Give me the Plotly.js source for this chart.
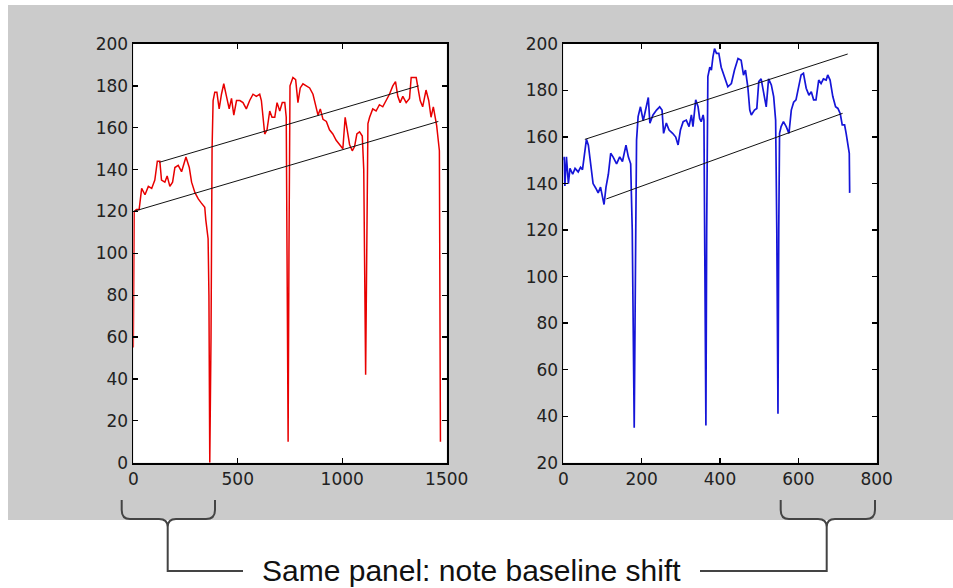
<!DOCTYPE html>
<html>
<head>
<meta charset="utf-8">
<script src="https://cdn.plot.ly/plotly-3.0.1.min.js"></script>
<style>html,body{margin:0;padding:0;background:#fff;}#chart{width:953px;height:588px;}</style>
</head>
<body>
<div id="chart"></div>
<script>
// ---- Data ----
const redX = [0,4,15,28,40,56,72,88,103,115,127,135,151,162,175,188,199,215,231,252,268,279,295,311,326,342,347,358,362,366,372,377,382,390,400,411,422,433,446,459,470,481,494,510,525,541,557,573,589,605,613,621,629,640,653,664,677,688,701,713,725,732,737,741,745,750,764,777,788,799,812,828,844,860,873,884,895,908,924,939,955,971,987,1003,1014,1024,1035,1048,1059,1070,1083,1096,1103,1112,1118,1123,1131,1146,1162,1178,1194,1210,1226,1242,1255,1266,1277,1290,1306,1322,1330,1354,1361,1373,1385,1401,1414,1425,1436,1446,1452,1465,1470];
const redY = [55,120,121,121,131,128,132,131,135,144,144,135,134,137,132,134,141,142,139,146,141,134,129,126,124,122,116,107,80,0,60,150,173,177,177,169,176,181,175,169,174,166,173,173,172,169,173,176,175,176,173,164,157,159,168,165,165,172,168,172,172,165,100,10,100,180,184,183,172,179,181,180,179,176,170,166,169,164,163,159,157,154,152,150,165,159,152,149,151,157,158,156,140,42,100,162,165,169,168,171,170,173,176,180,182,175,172,175,172,174,184,184,180,173,170,178,173,165,170,163,161,149,10];

const blueX = [0,2,4,8,13,17,24,30,38,44,49,55,59,64,70,76,83,89,95,100,104,109,115,121,127,136,144,151,160,166,172,176,181,185,187,191,197,204,211,217,221,229,238,246,252,256,263,270,279,287,293,299,306,314,321,327,331,338,344,348,352,357,359,361,364,366,369,374,378,382,386,391,397,403,412,420,429,437,446,454,460,465,471,476,480,488,494,499,505,511,518,524,531,537,542,545,548,550,552,556,562,569,576,582,588,594,601,607,613,620,627,633,639,645,652,658,664,671,675,681,688,695,701,707,712,718,722,726,730,731];
const blueY = [150,151.5,139,151.5,140,146.5,144,146.5,145,147,146,154.5,159,156.5,147,140,138,136,138.5,135,131,138.5,144,153,151.5,148.5,151.5,149.5,156.5,151.5,148.5,120,35,120,158.7,168.8,173,167,172,177,166,169.5,171.6,173,171.6,161.6,166,163,161.6,160,156.6,163,166.6,167.3,164.5,169.5,164.5,176,173,168,166.6,169.5,167.3,120,36,120,186,190,188.8,194.5,198,196,196,190,185,181.6,183,188.8,193.8,193,186.6,188.8,181.6,171.6,169.5,171.6,172.3,183.8,185,179.5,173,185,182.4,177.4,167.3,120,41,120,161.6,164.5,166.6,164.5,161.6,171.6,175,176,181.6,186.7,187.4,181,178,179.5,176,176,184.5,183,185,184.5,186.7,184.5,177.4,173,172.3,170,165.2,165.2,161.6,157.3,153,136];

// baseline trend lines (endpoints)
const redUpperX = [125, 1365], redUpperY = [143.5, 180];
const redLowerX = [0, 1460], redLowerY = [120, 163];
const blueUpperX = [55, 726], blueUpperY = [159, 195.7];
const blueLowerX = [110, 713], blueLowerY = [133.4, 170.2];

const leftXTicks = [0, 500, 1000, 1500];
const rightXTicks = [0, 200, 400, 600, 800];
const leftYTicks = [0,20,40,60,80,100,120,140,160,180,200];
const rightYTicks = [20,40,60,80,100,120,140,160,180,200];
const noteText = "Same panel: note baseline shift";

// ---- Layout helpers ----
const W = 953, H = 588;
const px = x => x / W;
const py = y => 1 - y / H;
const P = (x, y) => px(x) + ',' + py(y);

const lineColor = '#444';
const tickFont = {family: 'DejaVu Sans, Arial, sans-serif', size: 17, color: '#222'};

const leftDomX = [133.3/W, 446.7/W];
const rightDomX = [563.3/W, 876.7/W];
const domY = [py(462.7), py(44)];

function axisBase(extra) {
  return Object.assign({
    showgrid: false, zeroline: false, showline: true, mirror: 'ticks',
    linecolor: '#000', linewidth: 1.8, ticks: 'inside', ticklen: 5, tickwidth: 1.3,
    tickcolor: '#000', tickfont: tickFont, fixedrange: true
  }, extra);
}

const traces = [
  {x: redX, y: redY, xaxis: 'x', yaxis: 'y', type: 'scatter', mode: 'lines',
   line: {color: '#e80000', width: 1.5}},
  {x: redUpperX, y: redUpperY, xaxis: 'x', yaxis: 'y', type: 'scatter', mode: 'lines',
   line: {color: '#111', width: 1}},
  {x: redLowerX, y: redLowerY, xaxis: 'x', yaxis: 'y', type: 'scatter', mode: 'lines',
   line: {color: '#111', width: 1}},
  {x: blueX, y: blueY, xaxis: 'x2', yaxis: 'y2', type: 'scatter', mode: 'lines',
   line: {color: '#1515d8', width: 1.7}},
  {x: blueUpperX, y: blueUpperY, xaxis: 'x2', yaxis: 'y2', type: 'scatter', mode: 'lines',
   line: {color: '#111', width: 1}},
  {x: blueLowerX, y: blueLowerY, xaxis: 'x2', yaxis: 'y2', type: 'scatter', mode: 'lines',
   line: {color: '#111', width: 1}}
];

const leftBrace = 'M' + P(121.7,500) + ' L' + P(121.7,510) + ' Q' + P(121.7,519) + ' ' + P(130,519) +
  ' L' + P(159,519) + ' Q' + P(167.7,519) + ' ' + P(167.7,527) + ' Q' + P(167.7,519) + ' ' + P(176,519) +
  ' L' + P(206,519) + ' Q' + P(215,519) + ' ' + P(215,510) + ' L' + P(215,500);
const rightBrace = 'M' + P(780.7,500) + ' L' + P(780.7,510) + ' Q' + P(780.7,519) + ' ' + P(789,519) +
  ' L' + P(818,519) + ' Q' + P(826.7,519) + ' ' + P(826.7,527) + ' Q' + P(826.7,519) + ' ' + P(835,519) +
  ' L' + P(866,519) + ' Q' + P(875,519) + ' ' + P(875,510) + ' L' + P(875,500);
const leftConn = 'M' + P(167.7,527) + ' L' + P(167.7,571) + ' L' + P(243,571);
const rightConn = 'M' + P(700,571) + ' L' + P(826.7,571) + ' L' + P(826.7,527);

const layout = {
  width: W, height: H,
  margin: {l: 0, r: 0, t: 0, b: 0, pad: 0},
  paper_bgcolor: '#ffffff', plot_bgcolor: '#ffffff',
  showlegend: false,
  xaxis: axisBase({domain: leftDomX, range: [0, 1500], tickvals: leftXTicks, anchor: 'y'}),
  yaxis: axisBase({domain: domY, range: [0, 200], tickvals: leftYTicks, anchor: 'x'}),
  xaxis2: axisBase({domain: rightDomX, range: [0, 800], tickvals: rightXTicks, anchor: 'y2'}),
  yaxis2: axisBase({domain: domY, range: [20, 200], tickvals: rightYTicks, anchor: 'x2'}),
  shapes: [
    {type: 'rect', xref: 'paper', yref: 'paper', x0: px(8), x1: 1, y0: py(520), y1: py(5),
     fillcolor: '#cbcbcb', line: {width: 0}, layer: 'below'},
    {type: 'rect', xref: 'paper', yref: 'paper', x0: leftDomX[0], x1: leftDomX[1], y0: domY[0], y1: domY[1],
     fillcolor: '#ffffff', line: {width: 0}, layer: 'below'},
    {type: 'rect', xref: 'paper', yref: 'paper', x0: rightDomX[0], x1: rightDomX[1], y0: domY[0], y1: domY[1],
     fillcolor: '#ffffff', line: {width: 0}, layer: 'below'},
    {type: 'path', xref: 'paper', yref: 'paper', path: leftBrace, line: {color: lineColor, width: 2}},
    {type: 'path', xref: 'paper', yref: 'paper', path: rightBrace, line: {color: lineColor, width: 2}},
    {type: 'path', xref: 'paper', yref: 'paper', path: leftConn, line: {color: lineColor, width: 2}},
    {type: 'path', xref: 'paper', yref: 'paper', path: rightConn, line: {color: lineColor, width: 2}}
  ],
  annotations: [
    {xref: 'paper', yref: 'paper', x: px(471.5), y: py(570), text: noteText, showarrow: false,
     xanchor: 'center', yanchor: 'middle',
     font: {family: 'Liberation Sans, Arial, sans-serif', size: 30, color: '#111'}}
  ]
};

Plotly.newPlot('chart', traces, layout, {staticPlot: true, displayModeBar: false});
</script>
</body>
</html>
